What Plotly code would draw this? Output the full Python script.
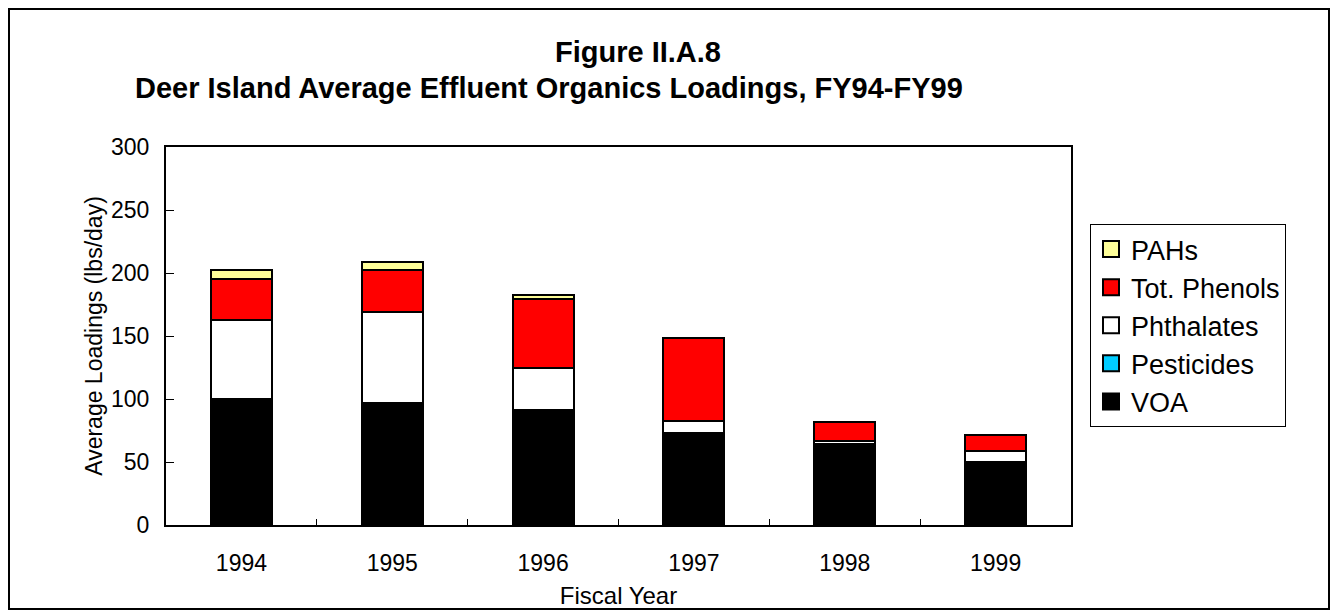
import plotly.graph_objects as go

# Deer Island effluent organics loadings (lbs/day)
years = ["1994", "1995", "1996", "1997", "1998", "1999"]
voa = [99.7, 96.6, 90.7, 72.8, 64.2, 49.5]
pesticides = [0.3, 0.3, 0.3, 0.2, 0.2, 0.2]
phthalates = [62.8, 72.2, 33.6, 9.2, 2.6, 8.7]
tot_phenols = [32.5, 33.0, 54.8, 66.1, 14.4, 12.7]
pahs = [7.4, 6.4, 3.4, 0.3, 0.0, 0.0]

series = [
    ("VOA", voa, "#000000"),
    ("Pesticides", pesticides, "#00CCFF"),
    ("Phthalates", phthalates, "#FFFFFF"),
    ("Tot. Phenols", tot_phenols, "#FF0000"),
    ("PAHs", pahs, "#FFFF99"),
]

FONT = "Liberation Sans, Arial, sans-serif"

fig = go.Figure()
for name, vals, col in series:
    fig.add_trace(go.Bar(x=years, y=vals, name=name, showlegend=False,
                         marker=dict(color=col, line=dict(color="black", width=2))))
# legend entries with bigger square swatches, like the original
for i, (name, vals, col) in enumerate(series):
    fig.add_trace(go.Scatter(x=[None], y=[None], mode="markers", name=name,
                             legendgroup="g%d" % i,
                             marker=dict(symbol="square", size=16, color=col,
                                         line=dict(color="black", width=2))))

# figure sits at (8, 8) in the page; coords below are figure pixels
L, R, T, B = 158, 1063, 139, 517
W, H = 1338, 616
def px(x):
    return (x - L) / (R - L)
def py(y):
    return (B - y) / (B - T)

fig.update_layout(
    width=W, height=H,
    margin=dict(l=L, r=W - R, t=T, b=H - B),
    barmode="stack", bargap=0.595,
    paper_bgcolor="white", plot_bgcolor="white",
    font=dict(family=FONT, size=22, color="black"),
    showlegend=True,
    legend=dict(x=px(1082), y=py(216), xanchor="left", yanchor="top",
                traceorder="reversed", bordercolor="black", borderwidth=1,
                font=dict(size=27), tracegroupgap=9, bgcolor="white",
                itemwidth=30),
    annotations=[
        dict(text="<b>Figure II.A.8</b>", x=px(630), y=py(44), xref="paper", yref="paper",
             xanchor="center", yanchor="middle", showarrow=False, font=dict(size=29)),
        dict(text="<b>Deer Island Average Effluent Organics Loadings, FY94-FY99</b>",
             x=px(541), y=py(80), xref="paper", yref="paper",
             xanchor="center", yanchor="middle", showarrow=False, font=dict(size=29)),
    ],
    shapes=[dict(type="rect", xref="paper", yref="paper",
                 x0=px(1), x1=px(1321), y0=py(601), y1=py(1),
                 line=dict(color="black", width=2))],
)

fig.update_xaxes(type="category", tickson="boundaries", ticks="inside", ticklen=6,
                 tickcolor="black", showline=True, linecolor="black", linewidth=2,
                 mirror=True, showgrid=False, ticklabelstandoff=16,
                 tickfont=dict(size=23),
                 title=dict(text="Fiscal Year", standoff=13, font=dict(size=24)))
fig.update_yaxes(range=[0, 300], dtick=50, ticks="inside", ticklen=8, tickcolor="black",
                 showline=True, linecolor="black", linewidth=2, mirror=True,
                 showgrid=False, zeroline=False, ticklabelstandoff=10,
                 tickfont=dict(size=23),
                 title=dict(text="Average Loadings (lbs/day)", standoff=2, font=dict(size=23)))

fig.write_html("out.html")
